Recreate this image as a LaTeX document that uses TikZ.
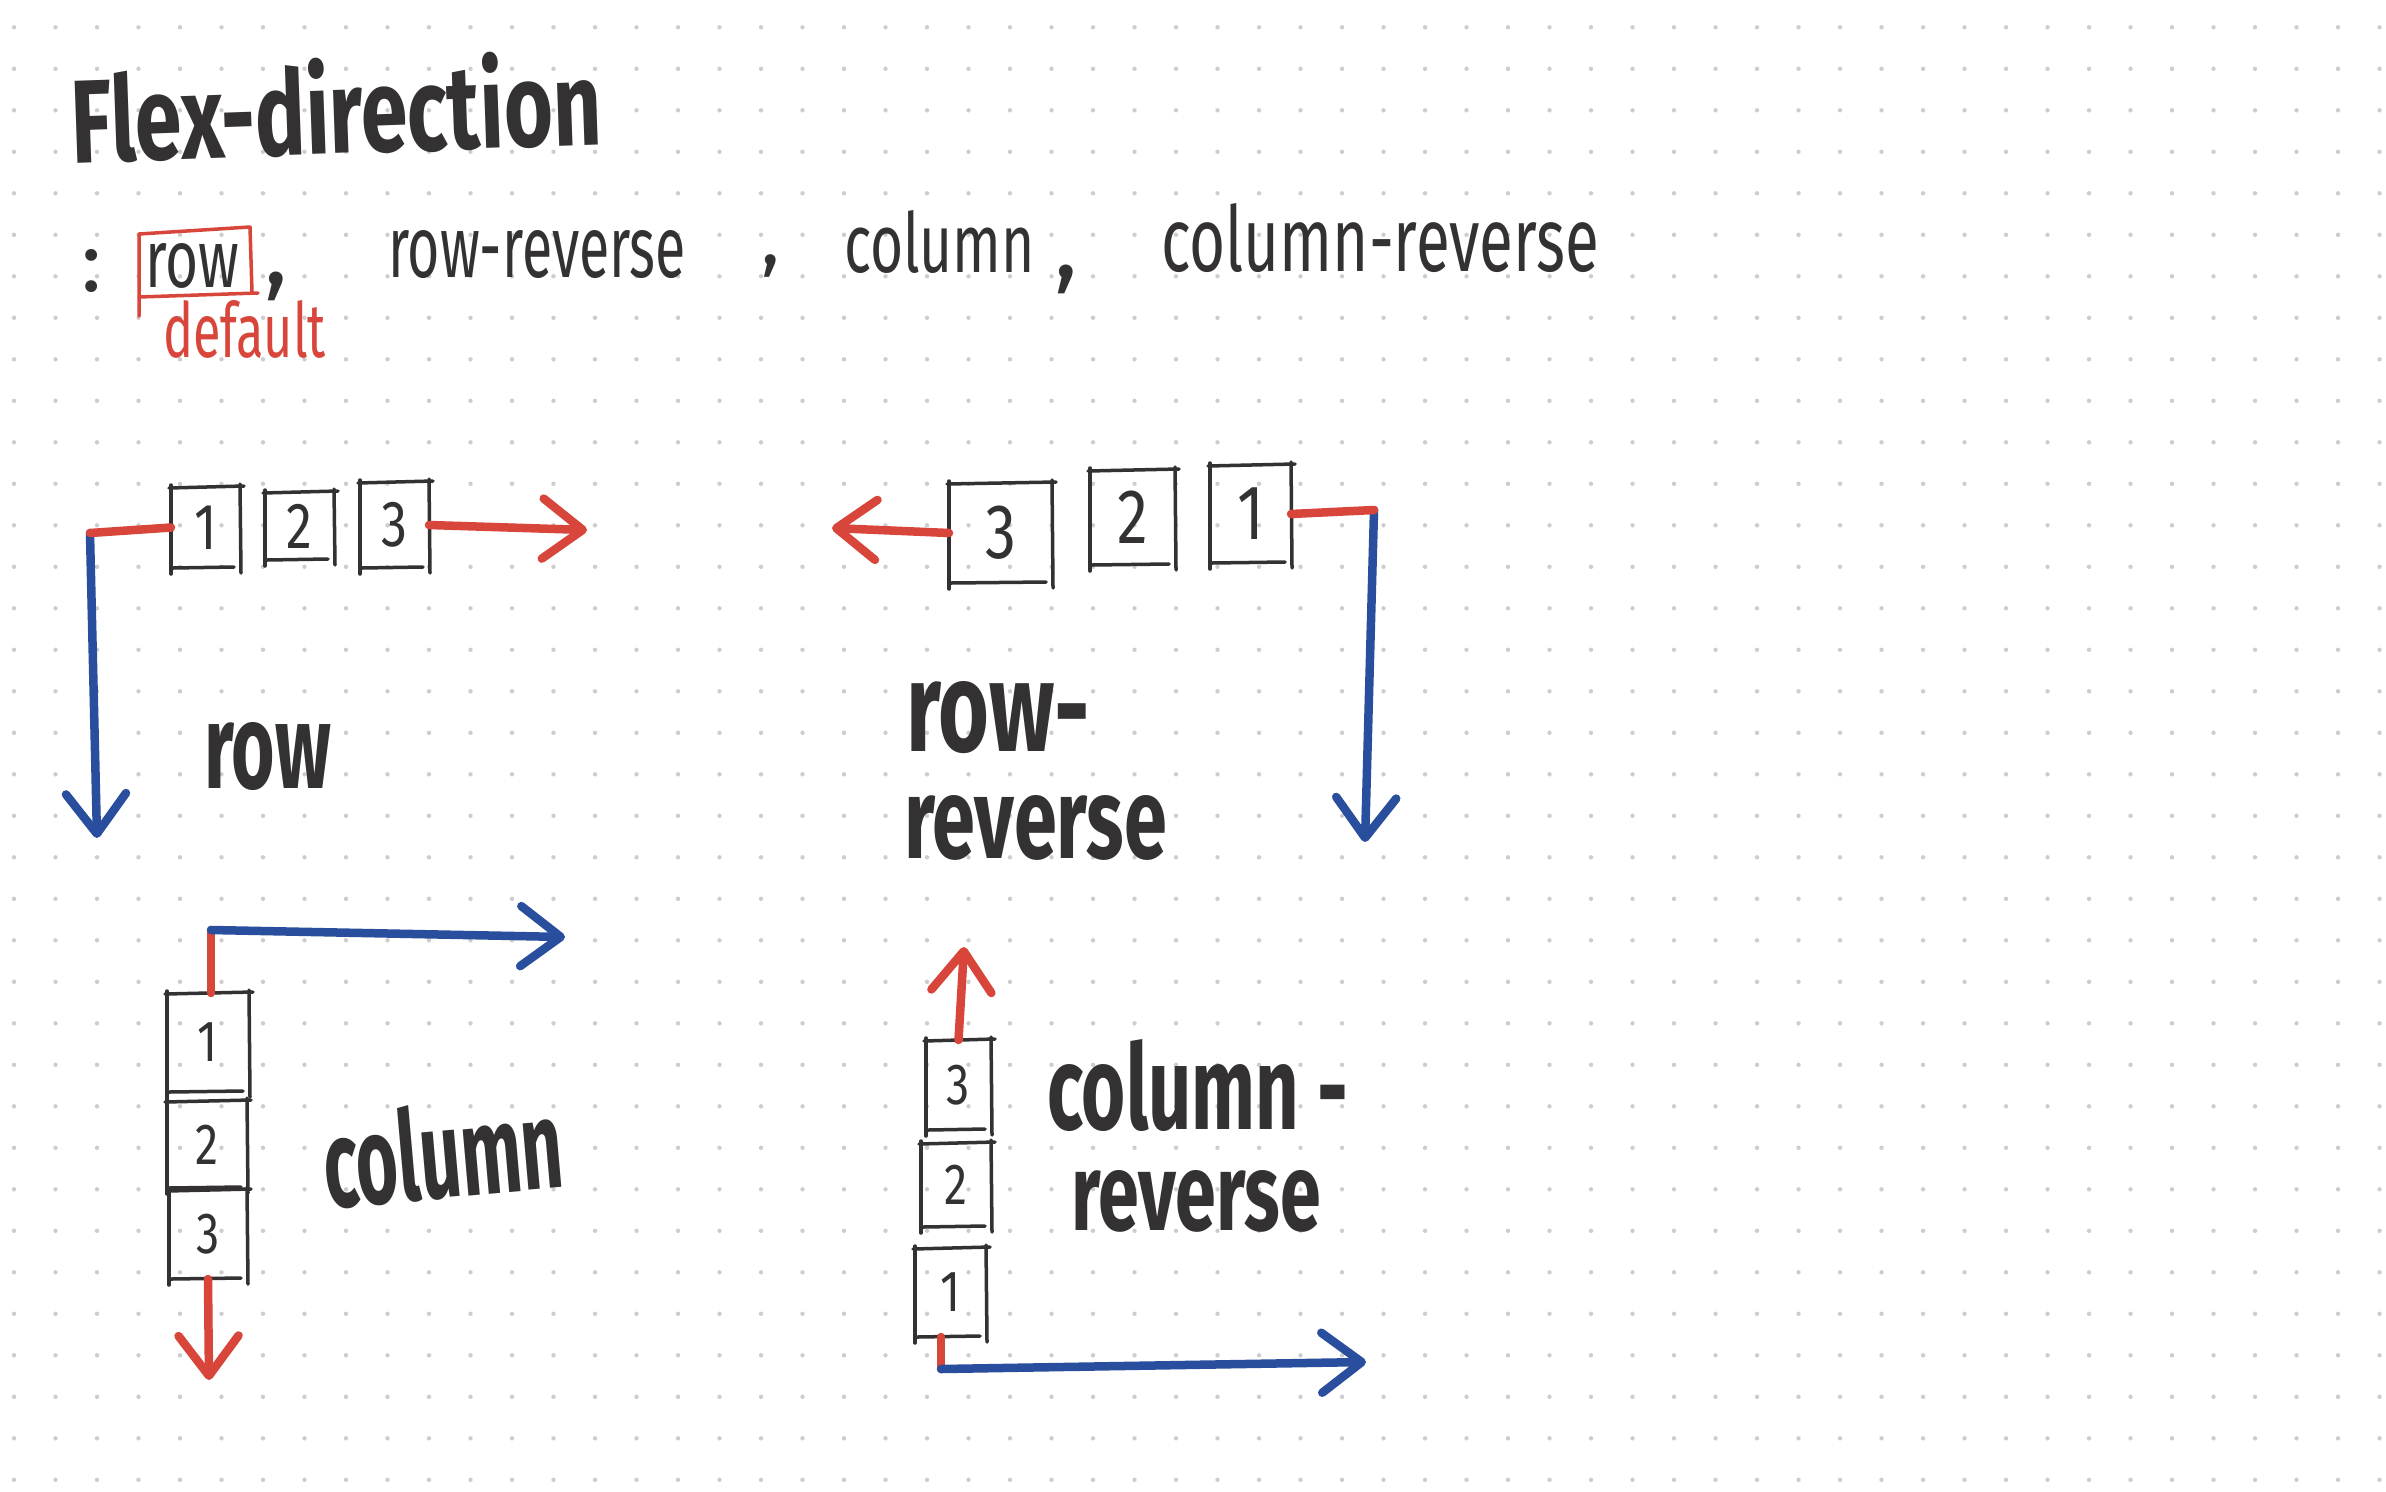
\documentclass[tikz,border=0pt]{standalone}
\usepackage{fontspec}
\setmainfont{Fira Sans}
\newfontfamily\digitfont[FakeStretch=0.8]{Fira Sans}
\usepackage{graphicx}
\usetikzlibrary{arrows.meta}
\newlength\pxu
\setlength\pxu{0.01cm}
\newcommand\fittext[3]{\resizebox{#1\pxu}{#2\pxu}{#3}}
\newcommand\fith[2]{\resizebox{!}{#1\pxu}{#2}}
\definecolor{inkred}{HTML}{D8453A}
\definecolor{inkblue}{HTML}{2A4E9E}
\definecolor{ink}{HTML}{333132}
\definecolor{dotc}{HTML}{CDCDCD}
\tikzset{
  txt/.style={inner sep=0pt, outer sep=0pt, anchor=base west, text=ink},
  thicktxt/.style={txt, font=\bfseries},
  itembox/.style 2 args={inner sep=0pt, outer sep=0pt, minimum width=#1*0.01cm, minimum height=#2*0.01cm, text=ink},
  dsmall/.style={font=\digitfont\fontsize{16.5}{16.5}\selectfont},
  dmid/.style={font=\digitfont\fontsize{18.5}{18.5}\selectfont},
  dbig/.style={font=\digitfont\fontsize{22}{22}\selectfont},
  boxline/.style={draw=ink, line width=0.035cm, line cap=round},
  redthin/.style={draw=inkred, line width=0.035cm, line cap=round, line join=round},
  redline/.style={draw=inkred, line width=0.085cm, line cap=round},
  blueline/.style={draw=inkblue, line width=0.085cm, line cap=round},
  tip/.style={-{Straight Barb[length=0.4cm,width=0.6cm,round]}}
}
\newcommand\sketchbox[1]{%
  \draw[boxline] ([shift={(-2,1)}]#1.north west) -- ([shift={(4,-1)}]#1.north east);
  \draw[boxline] ([shift={(0,-3)}]#1.north east) -- ([shift={(1,5)}]#1.south east);
  \draw[boxline] ([shift={(2,0)}]#1.south west) -- ([shift={(-6,-1)}]#1.south east);
  \draw[boxline] ([shift={(0,-2)}]#1.north west) -- ([shift={(0,6)}]#1.south west);
}
\begin{document}
\begin{tikzpicture}[x=0.01cm, y=-0.01cm, line join=round]
\fill[white] (0,0) rectangle (2386,1491);
\useasboundingbox (0,0) rectangle (2386,1491);
% dot grid
\foreach \i in {0,...,57}{\foreach \j in {0,...,35}{\fill[dotc] (14+41.5*\i, 27.3+41.5*\j) circle[radius=0.022cm];}}

% title
\node[thicktxt, rotate=2] (title) at (72,163) {\fittext{531}{96}{Flex-direction}};

% list of values
\node[txt, anchor=base] (colon) at (92,291) {\fith{42}{:}};
\node[txt] (opt1) at (145,287) {\fittext{94}{44}{row}};
\node[txt, font=\fontsize{28}{28}\selectfont] (cm1) at (264,284) {,};
\node[txt] (opt2) at (388,277) {\fittext{298}{47}{row-reverse}};
\node[txt, font=\fontsize{22}{22}\selectfont] (cm2) at (761,264) {,};
\node[txt] (opt3) at (844,272) {\fittext{191}{62}{column}};
\node[txt, font=\fontsize{28}{28}\selectfont] (cm3) at (1054,277) {,};
\node[txt] (opt4) at (1161,271) {\fittext{438}{68}{column-reverse}};
\node[txt, text=inkred] (deflt) at (163,357) {\fittext{163}{57}{default}};
\draw[redthin] (139,316) -- (139,234) -- (250,227) -- (252,292);
\draw[redthin] (139,297) -- (258,293);

% ---- row ----
\node[itembox={69}{81}, dmid] (a1) at (205.5,527.5) {1};
\node[itembox={69}{68}, dmid] (a2) at (299.5,526) {2};
\node[itembox={69}{86}, dmid] (a3) at (394.5,525) {3};
\sketchbox{a1}\sketchbox{a2}\sketchbox{a3}
\coordinate (rowC) at (90,533);
\coordinate (rowD) at (97,838);
\coordinate (rowR) at (587,530);
\draw[blueline, tip] (rowC) -- (rowD);
\draw[redline] (rowC) -- (a1.west);
\draw[redline, tip] (a3.east) -- (rowR);
\node[thicktxt] (lrow) at (204,788) {\fittext{127}{66}{row}};

% ---- row-reverse ----
\node[itembox={103}{100}, dbig] (b3) at (1000.5,533) {3};
\node[itembox={85}{95}, dbig] (b2) at (1132.5,517.5) {2};
\node[itembox={81}{98}, dbig] (b1) at (1250.5,514) {1};
\sketchbox{b1}\sketchbox{b2}\sketchbox{b3}
\coordinate (rrC) at (1374,510);
\coordinate (rrL) at (832,528);
\coordinate (rrD) at (1365,842);
\draw[blueline, tip] (rrC) -- (rrD);
\draw[redline] (b1.east) -- (rrC);
\draw[redline, tip] (b3.west) -- (rrL);
\node[thicktxt] (lrr1) at (906,751) {\fittext{184}{70}{row-}};
\node[thicktxt] (lrr2) at (904,858) {\fittext{263}{63}{reverse}};

% ---- column ----
\node[itembox={82}{99}, dsmall] (c1) at (208,1042.5) {1};
\node[itembox={80}{87}, dsmall] (c2) at (207,1144.5) {2};
\node[itembox={78}{89}, dsmall] (c3) at (208,1234.5) {3};
\sketchbox{c1}\sketchbox{c2}\sketchbox{c3}
\coordinate (colC) at (211,930);
\coordinate (colR) at (565,937);
\coordinate (colD) at (209,1380);
\draw[redline] (colC) -- (c1.north -| colC);
\draw[blueline, tip] (colC) -- (colR);
\draw[redline, tip] (c3.south) -- (colD);
\node[thicktxt, rotate=5] (lcol) at (327,1208) {\fittext{240}{95}{column}};

% ---- column-reverse ----
\node[itembox={65}{90}, dsmall] (k3) at (958.5,1085) {3};
\node[itembox={70}{84}, dsmall] (k2) at (956,1185) {2};
\node[itembox={71}{89}, dsmall] (k1) at (950.5,1292.5) {1};
\sketchbox{k1}\sketchbox{k2}\sketchbox{k3}
\coordinate (crC) at (941,1369);
\coordinate (crU) at (964,947);
\coordinate (crR) at (1366,1362);
\draw[redline, tip] (k3.north) -- (crU);
\draw[redline] (crC) -- (k1.south -| crC);
\draw[blueline, tip] (crC) -- (crR);
\node[thicktxt] (lcr1) at (1047,1129) {\fittext{301}{90}{column -}};
\node[thicktxt] (lcr2) at (1071,1230) {\fittext{250}{60}{reverse}};
\end{tikzpicture}
\end{document}
